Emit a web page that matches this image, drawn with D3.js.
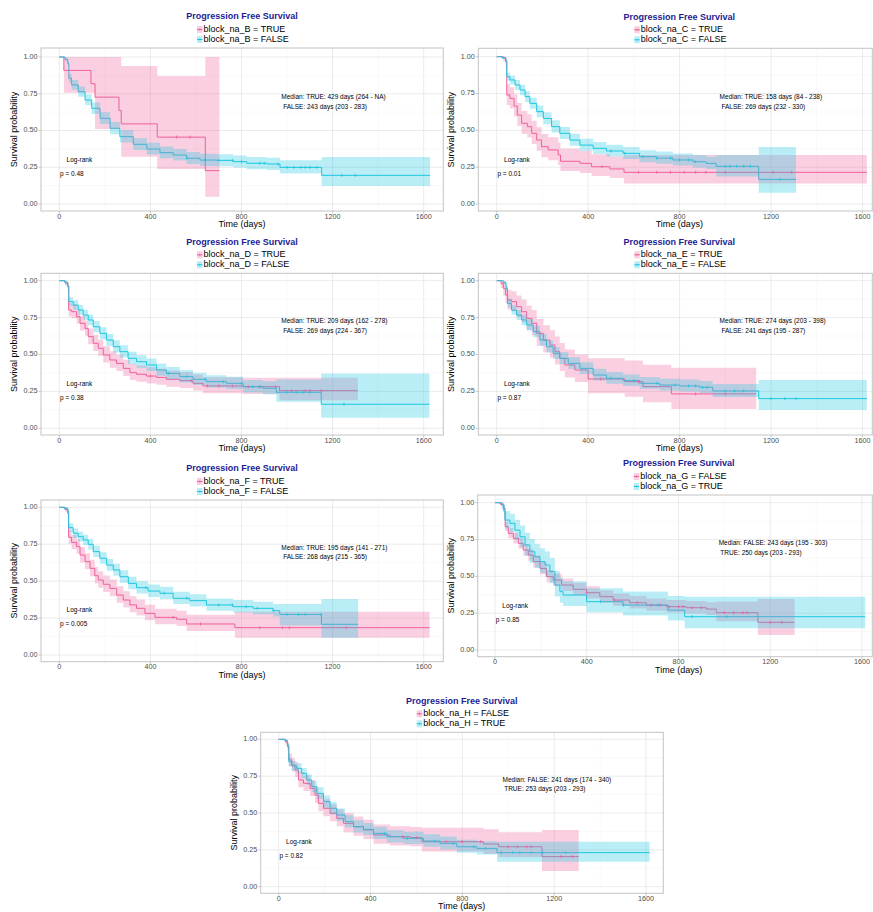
<!DOCTYPE html>
<html>
<head>
<meta charset="utf-8">
<script src="https://cdn.jsdelivr.net/npm/d3@7"></script>
<style>
  body { margin: 0; background: #fff; }
  svg { display: block; font-family: "Liberation Sans", Arial, sans-serif; }
</style>
</head>
<body>
<div id="chart"></div>
<script>
document.addEventListener('DOMContentLoaded', init, false);

const pinkColor = "#F0609A";
const cyanColor = "#1CC7E0";
const bandAlpha = 0.3;

// km rows: [time (days), survival, lower ci, upper ci]
const B_true = [[0,1,1,1],[20,0.909,0.757,1],[139,0.818,0.757,1],[157,0.727,0.51,1],[262,0.636,0.51,1],[272,0.545,0.322,0.939],[430,0.455,0.238,0.871],[641,0.227,0.05,1],[703,0.227,0.05,1]];
const B_false = [[0,1,1,1],[25,0.984,0.972,0.996],[37,0.957,0.94,0.975],[42,0.855,0.825,0.886],[54,0.81,0.778,0.843],[83,0.764,0.73,0.8],[113,0.707,0.671,0.745],[142,0.651,0.613,0.691],[179,0.583,0.544,0.625],[223,0.515,0.475,0.558],[266,0.458,0.419,0.501],[325,0.406,0.368,0.448],[384,0.374,0.337,0.416],[442,0.349,0.312,0.391],[501,0.333,0.296,0.375],[559,0.311,0.272,0.353],[618,0.299,0.258,0.341],[691,0.297,0.256,0.339],[764,0.288,0.248,0.33],[823,0.277,0.237,0.32],[911,0.272,0.231,0.315],[969,0.249,0.208,0.298],[1152,0.195,0.122,0.32],[1628,0.195,0.122,0.32]];

const C_true = [[0,1,1,1],[29,0.989,0.968,1],[39,0.966,0.93,1],[44,0.74,0.672,0.815],[58,0.717,0.648,0.793],[76,0.665,0.594,0.745],[90,0.604,0.532,0.686],[109,0.548,0.475,0.632],[134,0.525,0.452,0.61],[153,0.48,0.407,0.566],[175,0.434,0.362,0.521],[196,0.389,0.318,0.476],[225,0.367,0.297,0.454],[269,0.333,0.265,0.42],[279,0.29,0.224,0.376],[364,0.276,0.211,0.362],[415,0.253,0.19,0.338],[495,0.238,0.176,0.322],[557,0.215,0.14,0.333],[1619,0.215,0.14,0.333]];
const C_false = [[0,1,1,1],[22,0.993,0.985,1],[39,0.977,0.963,0.99],[44,0.864,0.836,0.893],[58,0.842,0.812,0.873],[80,0.808,0.776,0.841],[102,0.774,0.74,0.809],[124,0.729,0.693,0.766],[145,0.683,0.646,0.722],[175,0.627,0.589,0.668],[204,0.581,0.542,0.623],[240,0.525,0.486,0.568],[276,0.48,0.441,0.523],[320,0.434,0.395,0.477],[364,0.4,0.362,0.443],[422,0.378,0.34,0.421],[480,0.36,0.322,0.403],[553,0.344,0.306,0.387],[625,0.321,0.283,0.365],[698,0.312,0.274,0.356],[771,0.299,0.261,0.343],[858,0.287,0.248,0.332],[916,0.276,0.237,0.322],[960,0.256,0.186,0.333],[1146,0.167,0.077,0.387],[1309,0.167,0.077,0.387]];

const D_true = [[0,1,1,1],[25,0.986,0.97,1],[37,0.959,0.935,0.984],[41,0.801,0.757,0.847],[54,0.79,0.745,0.837],[76,0.756,0.709,0.805],[91,0.711,0.662,0.763],[113,0.677,0.627,0.731],[127,0.621,0.57,0.677],[149,0.576,0.524,0.633],[171,0.542,0.49,0.6],[193,0.497,0.445,0.556],[222,0.463,0.411,0.522],[251,0.44,0.388,0.499],[281,0.406,0.355,0.465],[310,0.377,0.327,0.436],[339,0.366,0.316,0.425],[383,0.354,0.304,0.413],[427,0.345,0.295,0.404],[470,0.332,0.282,0.391],[529,0.323,0.273,0.382],[587,0.305,0.256,0.364],[631,0.287,0.238,0.346],[807,0.282,0.233,0.342],[967,0.255,0.19,0.343],[1311,0.255,0.19,0.343]];
const D_false = [[0,1,1,1],[25,0.986,0.974,0.998],[37,0.964,0.947,0.981],[42,0.858,0.829,0.888],[61,0.835,0.804,0.867],[83,0.801,0.768,0.835],[105,0.767,0.733,0.803],[127,0.734,0.698,0.771],[149,0.688,0.651,0.727],[178,0.643,0.604,0.684],[207,0.598,0.558,0.64],[237,0.553,0.513,0.596],[266,0.519,0.479,0.563],[302,0.474,0.434,0.518],[339,0.451,0.411,0.495],[383,0.429,0.389,0.473],[427,0.395,0.356,0.439],[470,0.372,0.333,0.416],[529,0.35,0.311,0.394],[587,0.332,0.293,0.376],[646,0.316,0.277,0.36],[733,0.305,0.266,0.35],[807,0.282,0.243,0.328],[894,0.271,0.231,0.318],[953,0.244,0.18,0.33],[1150,0.163,0.072,0.372],[1625,0.163,0.072,0.372]];

const E_true = [[0,1,1,1],[19,0.98,0.95,1],[29,0.948,0.9,0.998],[39,0.903,0.845,0.965],[48,0.869,0.805,0.938],[65,0.858,0.793,0.929],[87,0.824,0.754,0.9],[109,0.79,0.716,0.872],[131,0.745,0.667,0.832],[153,0.711,0.63,0.802],[175,0.643,0.559,0.74],[204,0.598,0.513,0.698],[233,0.564,0.478,0.665],[255,0.519,0.433,0.622],[276,0.474,0.389,0.578],[298,0.429,0.345,0.534],[342,0.395,0.313,0.5],[400,0.334,0.237,0.474],[560,0.316,0.214,0.46],[640,0.282,0.176,0.43],[764,0.233,0.131,0.41],[1135,0.233,0.131,0.41]];
const E_false = [[0,1,1,1],[29,0.986,0.975,0.997],[41,0.948,0.93,0.967],[47,0.847,0.818,0.877],[65,0.801,0.769,0.834],[87,0.767,0.733,0.802],[109,0.734,0.699,0.771],[131,0.7,0.663,0.738],[160,0.655,0.617,0.695],[189,0.598,0.559,0.639],[218,0.553,0.514,0.595],[247,0.508,0.469,0.55],[276,0.474,0.435,0.516],[313,0.44,0.401,0.482],[364,0.406,0.368,0.448],[422,0.361,0.324,0.403],[480,0.339,0.302,0.381],[553,0.323,0.286,0.365],[625,0.305,0.268,0.347],[713,0.293,0.256,0.335],[800,0.287,0.25,0.33],[887,0.278,0.24,0.321],[945,0.253,0.212,0.3],[1146,0.201,0.124,0.327],[1619,0.201,0.124,0.327]];

const F_true = [[0,1,1,1],[25,0.986,0.97,1],[37,0.959,0.935,0.984],[41,0.797,0.752,0.845],[54,0.763,0.716,0.813],[76,0.734,0.685,0.786],[91,0.677,0.626,0.732],[113,0.632,0.58,0.689],[135,0.587,0.534,0.645],[156,0.537,0.484,0.596],[171,0.508,0.455,0.567],[193,0.479,0.426,0.539],[222,0.451,0.398,0.511],[252,0.406,0.354,0.466],[281,0.372,0.321,0.432],[310,0.339,0.289,0.398],[339,0.316,0.267,0.375],[376,0.282,0.235,0.34],[420,0.255,0.209,0.313],[515,0.242,0.196,0.3],[559,0.21,0.163,0.272],[771,0.185,0.117,0.293],[1626,0.185,0.117,0.293]];
const F_false = [[0,1,1,1],[22,0.993,0.985,1],[37,0.977,0.963,0.99],[41,0.862,0.833,0.892],[61,0.824,0.792,0.857],[83,0.801,0.768,0.835],[105,0.779,0.745,0.814],[127,0.749,0.713,0.786],[149,0.7,0.663,0.739],[178,0.655,0.617,0.695],[208,0.609,0.57,0.65],[237,0.576,0.536,0.618],[266,0.53,0.49,0.573],[303,0.485,0.445,0.529],[339,0.456,0.416,0.5],[390,0.433,0.393,0.477],[442,0.418,0.378,0.462],[500,0.384,0.345,0.428],[573,0.368,0.329,0.412],[646,0.339,0.3,0.383],[763,0.327,0.288,0.372],[851,0.316,0.276,0.361],[939,0.3,0.26,0.346],[968,0.275,0.2,0.345],[1151,0.208,0.117,0.379],[1312,0.208,0.117,0.379]];

const G_false = [[0,1,1,1],[22,0.991,0.982,1],[36,0.962,0.945,0.98],[44,0.837,0.806,0.869],[58,0.792,0.759,0.827],[80,0.758,0.723,0.795],[102,0.724,0.687,0.762],[123,0.679,0.641,0.719],[145,0.645,0.606,0.686],[167,0.6,0.56,0.642],[196,0.554,0.514,0.597],[225,0.498,0.458,0.542],[254,0.475,0.435,0.519],[290,0.441,0.401,0.485],[341,0.412,0.373,0.456],[399,0.389,0.35,0.433],[457,0.362,0.323,0.406],[515,0.339,0.3,0.383],[587,0.321,0.282,0.366],[660,0.305,0.266,0.35],[747,0.294,0.255,0.34],[834,0.287,0.247,0.333],[921,0.278,0.238,0.325],[965,0.253,0.195,0.33],[1146,0.188,0.102,0.346],[1306,0.188,0.102,0.346]];
const G_true = [[0,1,1,1],[29,0.984,0.955,1],[39,0.939,0.893,0.988],[44,0.882,0.825,0.943],[65,0.86,0.8,0.925],[87,0.814,0.748,0.885],[109,0.769,0.699,0.846],[131,0.713,0.639,0.796],[152,0.667,0.591,0.753],[174,0.633,0.556,0.721],[196,0.6,0.522,0.69],[218,0.577,0.498,0.668],[239,0.532,0.453,0.625],[261,0.441,0.363,0.535],[283,0.396,0.32,0.49],[297,0.373,0.298,0.467],[399,0.328,0.256,0.42],[558,0.305,0.234,0.397],[754,0.271,0.2,0.367],[827,0.226,0.147,0.362],[1614,0.226,0.147,0.362]];

const H_false = [[0,1,1,1],[28,0.984,0.965,1],[38,0.95,0.922,0.979],[44,0.86,0.818,0.904],[57,0.826,0.781,0.873],[71,0.792,0.745,0.842],[86,0.724,0.674,0.778],[108,0.701,0.65,0.756],[137,0.667,0.615,0.723],[158,0.622,0.569,0.68],[173,0.566,0.512,0.626],[195,0.532,0.478,0.593],[224,0.498,0.444,0.559],[253,0.464,0.41,0.525],[282,0.43,0.368,0.5],[326,0.407,0.346,0.477],[369,0.385,0.324,0.455],[413,0.351,0.292,0.422],[485,0.339,0.28,0.41],[573,0.333,0.274,0.405],[624,0.305,0.238,0.4],[892,0.29,0.222,0.39],[958,0.271,0.2,0.37],[1147,0.204,0.106,0.385],[1307,0.204,0.106,0.385]];
const H_true = [[0,1,1,1],[28,0.991,0.982,1],[38,0.962,0.945,0.98],[44,0.848,0.818,0.879],[57,0.819,0.787,0.852],[78,0.803,0.77,0.837],[100,0.769,0.735,0.805],[122,0.724,0.688,0.762],[144,0.679,0.641,0.718],[166,0.633,0.595,0.674],[195,0.577,0.538,0.619],[224,0.532,0.492,0.575],[253,0.486,0.446,0.53],[289,0.441,0.401,0.485],[326,0.407,0.368,0.451],[369,0.389,0.35,0.433],[413,0.362,0.323,0.406],[471,0.339,0.3,0.383],[544,0.328,0.289,0.372],[631,0.31,0.271,0.355],[703,0.294,0.254,0.34],[776,0.271,0.23,0.318],[863,0.26,0.219,0.308],[951,0.231,0.17,0.305],[1616,0.231,0.17,0.305]];

// censored times (days)
const B_true_cens = [515, 574];
const B_false_cens = [560, 640, 700, 760, 800, 880, 900, 960, 1000, 1030, 1060, 1080, 1100, 1130, 1240, 1300];
const C_true_cens = [460, 620, 700, 760, 820, 870, 915, 1000, 1210, 1290];
const C_false_cens = [500, 560, 640, 700, 760, 800, 840, 870, 1000, 1020, 1050, 1080, 1110, 1240];
const D_true_cens = [400, 580, 650, 700, 760, 830, 880, 950, 1020, 1080, 1100, 1150];
const D_false_cens = [480, 560, 640, 720, 800, 850, 880, 1000, 1040, 1070, 1100, 1250];
const E_true_cens = [455, 620, 870, 1000];
const E_false_cens = [500, 600, 700, 780, 840, 870, 900, 920, 1000, 1040, 1080, 1200, 1260, 1310];
const F_true_cens = [500, 620, 880, 980, 1010, 1260];
const F_false_cens = [380, 460, 560, 700, 760, 820, 870, 940, 1000, 1050, 1080, 1150];
const G_false_cens = [400, 520, 620, 680, 720, 760, 800, 820, 860, 900, 1000, 1040, 1080, 1100, 1200, 1250];
const G_true_cens = [460, 560, 710, 860, 1010];
const H_false_cens = [540, 600, 730, 800, 880, 1000, 1040, 1080, 1100, 1230, 1280];
const H_true_cens = [460, 560, 680, 760, 850, 900, 970, 1020, 1050, 1100, 1150, 1250];

const pinkCurves = [B_true, C_true, D_true, E_true, F_true, G_false, H_false];
const cyanCurves = [B_false, C_false, D_false, E_false, F_false, G_true, H_true];
const pinkCens = [B_true_cens, C_true_cens, D_true_cens, E_true_cens, F_true_cens, G_false_cens, H_false_cens];
const cyanCens = [B_false_cens, C_false_cens, D_false_cens, E_false_cens, F_false_cens, G_true_cens, H_true_cens];

const legendLabels = [
  ["block_na_B = TRUE", "block_na_B = FALSE"],
  ["block_na_C = TRUE", "block_na_C = FALSE"],
  ["block_na_D = TRUE", "block_na_D = FALSE"],
  ["block_na_E = TRUE", "block_na_E = FALSE"],
  ["block_na_F = TRUE", "block_na_F = FALSE"],
  ["block_na_G = FALSE", "block_na_G = TRUE"],
  ["block_na_H = FALSE", "block_na_H = TRUE"]
];
const medianLines = [
  ["Median: TRUE: 429 days (264 - NA)", " FALSE: 243 days (203 - 283)"],
  ["Median: TRUE: 158 days (84 - 238)", " FALSE: 269 days (232 - 330)"],
  ["Median: TRUE: 209 days (162 - 278)", " FALSE: 269 days (224 - 367)"],
  ["Median: TRUE: 274 days (203 - 398)", " FALSE: 241 days (195 - 287)"],
  ["Median: TRUE: 195 days (141 - 271)", " FALSE: 268 days (215 - 365)"],
  ["Median: FALSE: 243 days (195 - 303)", " TRUE: 250 days (203 - 293)"],
  ["Median: FALSE: 241 days (174 - 340)", " TRUE: 253 days (203 - 293)"]
];
const pValues = ["p = 0.48", "p = 0.01", "p = 0.38", "p = 0.87", "p = 0.005", "p = 0.85", "p = 0.82"];

const xTicks = [0, 400, 800, 1200, 1600];
const xMinor = [200, 600, 1000, 1400];
const yTicks = [0, 0.25, 0.5, 0.75, 1];
const yMinor = [0.125, 0.375, 0.625, 0.875];

// panel frames: border l/t/r/b, pixel of day 0 / day 1600, pixel of surv 0 / surv 1
const frames = [
  {l: 41, t: 48, r: 443.3, b: 211, x0: 59.3, x1: 423.7, y0: 204, y1: 57},
  {l: 478.3, t: 48.3, r: 872.3, b: 211, x0: 496.7, x1: 862.5, y0: 204, y1: 56.7},
  {l: 41, t: 273.3, r: 443.3, b: 435, x0: 59.3, x1: 423.7, y0: 428.3, y1: 280.7},
  {l: 478.3, t: 273.3, r: 872.3, b: 435, x0: 496.7, x1: 862.5, y0: 428.3, y1: 280.7},
  {l: 41, t: 500, r: 443.3, b: 661.7, x0: 59.3, x1: 423.7, y0: 655, y1: 507.3},
  {l: 477.7, t: 495, r: 872.3, b: 656.7, x0: 495, x1: 862, y0: 650, y1: 502.7},
  {l: 260.7, t: 732.3, r: 663.3, b: 893.3, x0: 278.7, x1: 646, y0: 886.7, y1: 739.3}
];

function init() {
  var width = 873, height = 912;

  var svg = d3.select("#chart")
    .append("svg")
    .attr("width", width)
    .attr("height", height);

  frames.forEach(function (f, i) {
    drawPanel(svg, f, i);
  });
}

function survAt(rows, t) {
  var s = 1;
  rows.forEach(function (r) { if (r[0] <= t) s = r[1]; });
  return s;
}

function drawPanel(svg, f, i) {
  var x = d3.scaleLinear().domain([0, 1600]).range([f.x0, f.x1]);
  var y = d3.scaleLinear().domain([0, 1]).range([f.y0, f.y1]);
  var cx = f.l + 201; // centre of the (uncropped) panel

  var g = svg.append("g");

  g.append("clipPath").attr("id", "clip" + i)
    .append("rect")
    .attr("x", f.l).attr("y", f.t)
    .attr("width", f.r - f.l).attr("height", f.b - f.t);

  var inner = g.append("g").attr("clip-path", "url(#clip" + i + ")");

  // grid
  inner.selectAll(".xminor").data(xMinor).enter().append("line")
    .attr("x1", d => x(d)).attr("x2", d => x(d))
    .attr("y1", f.t).attr("y2", f.b)
    .attr("stroke", "#f2f2f2").attr("stroke-width", 0.5);
  inner.selectAll(".yminor").data(yMinor).enter().append("line")
    .attr("x1", f.l).attr("x2", f.r)
    .attr("y1", d => y(d)).attr("y2", d => y(d))
    .attr("stroke", "#f2f2f2").attr("stroke-width", 0.5);
  inner.selectAll(".xmajor").data(xTicks).enter().append("line")
    .attr("x1", d => x(d)).attr("x2", d => x(d))
    .attr("y1", f.t).attr("y2", f.b)
    .attr("stroke", "#e6e6e6").attr("stroke-width", 0.8);
  inner.selectAll(".ymajor").data(yTicks).enter().append("line")
    .attr("x1", f.l).attr("x2", f.r)
    .attr("y1", d => y(d)).attr("y2", d => y(d))
    .attr("stroke", "#e6e6e6").attr("stroke-width", 0.8);

  var line = d3.line()
    .curve(d3.curveStepAfter)
    .x(d => x(d[0])).y(d => y(d[1]));
  var band = d3.area()
    .curve(d3.curveStepAfter)
    .x(d => x(d[0])).y0(d => y(d[2])).y1(d => y(d[3]));

  var curves = [
    {rows: pinkCurves[i], cens: pinkCens[i], color: pinkColor},
    {rows: cyanCurves[i], cens: cyanCens[i], color: cyanColor}
  ];

  // steps first, ribbons over them (as survminer does)
  curves.forEach(function (c) {
    inner.append("path").datum(c.rows)
      .attr("d", line)
      .attr("fill", "none")
      .attr("stroke", c.color)
      .attr("stroke-width", 1);
  });
  curves.forEach(function (c) {
    inner.append("path").datum(c.rows)
      .attr("d", band)
      .attr("fill", c.color)
      .attr("fill-opacity", bandAlpha)
      .attr("stroke", "none");
  });
  curves.forEach(function (c) {
    inner.selectAll(null).data(c.cens).enter().append("path")
      .attr("d", d => {
        var px = x(d), py = y(survAt(c.rows, d));
        return "M" + px + "," + (py - 1.6) + "V" + (py + 1.6) + "M" + (px - 1) + "," + py + "H" + (px + 1);
      })
      .attr("stroke", c.color)
      .attr("stroke-width", 0.7);
  });

  // border
  g.append("rect")
    .attr("x", f.l).attr("y", f.t)
    .attr("width", f.r - f.l).attr("height", f.b - f.t)
    .attr("fill", "none")
    .attr("stroke", "#c4c4c4")
    .attr("stroke-width", 1);

  // axes ticks + labels
  g.selectAll(".xt").data(xTicks).enter().append("line")
    .attr("x1", d => x(d)).attr("x2", d => x(d))
    .attr("y1", f.b).attr("y2", f.b + 2.5)
    .attr("stroke", "#b3b3b3").attr("stroke-width", 0.7);
  g.selectAll(".xl").data(xTicks).enter().append("text")
    .attr("x", d => x(d)).attr("y", f.b + 5.6)
    .attr("text-anchor", "middle")
    .attr("dominant-baseline", "middle")
    .attr("font-size", "7.2px")
    .attr("fill", "#4d4d4d")
    .text(d => d);
  g.selectAll(".yt").data(yTicks).enter().append("line")
    .attr("x1", f.l - 2.5).attr("x2", f.l)
    .attr("y1", d => y(d)).attr("y2", d => y(d))
    .attr("stroke", "#b3b3b3").attr("stroke-width", 0.7);
  g.selectAll(".yl").data(yTicks).enter().append("text")
    .attr("x", f.l - 3.5).attr("y", d => y(d))
    .attr("text-anchor", "end")
    .attr("dominant-baseline", "middle")
    .attr("font-size", "7.2px")
    .attr("fill", "#4d4d4d")
    .text(d => d3.format(".2f")(d));

  g.append("text")
    .attr("x", cx).attr("y", f.b + 13.5)
    .attr("text-anchor", "middle")
    .attr("dominant-baseline", "middle")
    .attr("font-size", "9px")
    .attr("fill", "#000")
    .text("Time (days)");
  g.append("text")
    .attr("transform", "translate(" + (f.l - 26.5) + "," + ((f.t + f.b) / 2) + ") rotate(-90)")
    .attr("text-anchor", "middle")
    .attr("dominant-baseline", "middle")
    .attr("font-size", "9px")
    .attr("fill", "#000")
    .text("Survival probability");

  // title + legend
  g.append("text")
    .attr("x", cx).attr("y", f.t - 31)
    .attr("text-anchor", "middle")
    .attr("dominant-baseline", "middle")
    .attr("font-size", "9px")
    .attr("font-weight", "bold")
    .attr("fill", "#1c1c94")
    .text("Progression Free Survival");

  [pinkColor, cyanColor].forEach(function (col, k) {
    var ly = f.t - 18.5 + k * 10;
    g.append("rect")
      .attr("x", cx - 45).attr("y", ly - 3.5)
      .attr("width", 5.5).attr("height", 7)
      .attr("fill", col).attr("fill-opacity", bandAlpha);
    g.append("line")
      .attr("x1", cx - 45).attr("x2", cx - 39.5)
      .attr("y1", ly).attr("y2", ly)
      .attr("stroke", col).attr("stroke-width", 1);
    g.append("line")
      .attr("x1", cx - 42.25).attr("x2", cx - 42.25)
      .attr("y1", ly - 1.3).attr("y2", ly + 1.3)
      .attr("stroke", col).attr("stroke-width", 0.6);
    g.append("text")
      .attr("x", cx - 38.5).attr("y", ly)
      .attr("dominant-baseline", "middle")
      .attr("font-size", "9px")
      .attr("fill", "#000")
      .text(legendLabels[i][k]);
  });

  // annotations
  medianLines[i].forEach(function (txt, k) {
    g.append("text")
      .attr("x", x(975)).attr("y", y(k == 0 ? 0.723 : 0.66))
      .attr("dominant-baseline", "middle")
      .attr("font-size", "6.5px")
      .attr("fill", "#000")
      .style("white-space", "pre")
      .text(txt);
  });
  g.append("text")
    .attr("x", x(32)).attr("y", y(0.30))
    .attr("dominant-baseline", "middle")
    .attr("font-size", "6.5px")
    .attr("fill", "#000")
    .text("Log-rank");
  g.append("text")
    .attr("x", x(3)).attr("y", y(0.205))
    .attr("dominant-baseline", "middle")
    .attr("font-size", "6.5px")
    .attr("fill", "#000")
    .text(pValues[i]);
}
</script>
</body>
</html>
